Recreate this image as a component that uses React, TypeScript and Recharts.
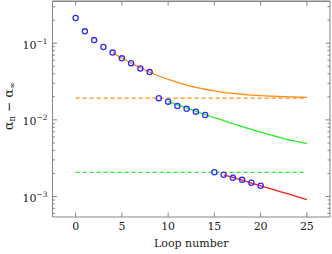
import { ComposedChart, Line, Scatter, XAxis, YAxis } from "recharts";

// measured points (loop number, alpha_n - alpha_inf)
const loops = [0, 1, 2, 3, 4, 5, 6, 7, 8, 9, 10, 11, 12, 13, 14, 15, 16, 17, 18, 19, 20];
const measured = [
  0.214, 0.143, 0.11, 0.0895, 0.0755, 0.0635, 0.055, 0.047, 0.042, 0.0192, 0.0173, 0.0152, 0.014, 0.0128,
  0.0116, 0.00207, 0.00192, 0.00175, 0.00165, 0.00151, 0.00138,
];

// fitted curves
const orangeLoops = [4, 5, 6, 7, 8, 9, 10, 11, 12, 13, 14, 15, 16, 17, 18, 19, 20, 21, 22, 23, 24, 25];
const orangeFit = [
  0.0755, 0.0641, 0.055, 0.0478, 0.042, 0.0374, 0.0337, 0.0308, 0.0284, 0.0266, 0.0251, 0.0239, 0.0229,
  0.0222, 0.0216, 0.0211, 0.0207, 0.0204, 0.0202, 0.02, 0.0198, 0.0197,
];
const greenLoops = [10, 11, 12, 13, 14, 15, 16, 17, 18, 19, 20, 21, 22, 23, 24, 25];
const greenFit = [
  0.0173, 0.0157, 0.0143, 0.013, 0.0117, 0.0107, 0.0098, 0.0089, 0.0082, 0.0075, 0.0069, 0.0064, 0.0059,
  0.0055, 0.0052, 0.0049,
];
const redLoops = [16, 17, 18, 19, 20, 21, 22, 23, 24, 25];
const redFit = [0.00192, 0.00177, 0.00163, 0.0015, 0.00138, 0.00127, 0.00117, 0.00108, 0.00099, 0.00091];

// asymptotes (dashed)
const asymLoops = [0, 25];
const orangeAsym = 0.0192;
const greenAsym = 0.00207;

const xTicks = [0, 5, 10, 15, 20, 25];
const yTicks = [
  0.0006, 0.0007, 0.0008, 0.0009, 0.001, 0.002, 0.003, 0.004, 0.005, 0.006, 0.007, 0.008, 0.009, 0.01, 0.02,
  0.03, 0.04, 0.05, 0.06, 0.07, 0.08, 0.09, 0.1, 0.2, 0.3,
];

const AXIS = "#858585";
const BLUE = "#2e2eff";
const ORANGE = "#ff8a14";
const GREEN = "#22ee22";
const RED = "#ff1a1a";
const FONT = "DejaVu Serif";

const xDomain: [number, number] = [-2.5, 27.5];
const yDomain: [number, number] = [0.00054, 0.356];

const toPts = (xs: number[], ys: number[]) => xs.map((n, i) => ({ n, v: ys[i] }));
const flat = (v: number) => asymLoops.map((n) => ({ n, v }));
// top edge of the frame, a series along the domain max bound to the top axis
const topEdge = xDomain.map((n) => ({ n, v: yDomain[1] }));

const isMajor = (v: number) => Math.abs(Math.log10(v) - Math.round(Math.log10(v))) < 1e-6;

function LeftTick({ x, y, payload }: any) {
  const v = payload.value;
  const major = isMajor(v);
  return (
    <g>
      <line x1={x} x2={x + (major ? 4.5 : 2.5)} y1={y} y2={y} stroke={AXIS} />
      {major && (
        <text x={x - 5} y={y + 5.5} textAnchor="end" fontFamily={FONT} fontSize={11} fill="#222">
          10
          <tspan dy={-5} fontSize={7.5}>
            {"\u2212" + -Math.round(Math.log10(v))}
          </tspan>
        </text>
      )}
    </g>
  );
}

function RightTick({ x, y, payload }: any) {
  const major = isMajor(payload.value);
  return <line x1={x} x2={x - (major ? 4.5 : 2.5)} y1={y} y2={y} stroke={AXIS} />;
}

function BottomTick({ x, y, payload }: any) {
  return (
    <g>
      <line x1={x} x2={x} y1={y} y2={y - 4.5} stroke={AXIS} />
      <text x={x} y={y + 12.5} textAnchor="middle" fontFamily={FONT} fontSize={11} fill="#222">
        {payload.value}
      </text>
    </g>
  );
}

function TopTick({ x, y }: any) {
  return <line x1={x} x2={x} y1={y} y2={y + 4.5} stroke={AXIS} />;
}

function YLabel({ viewBox }: any) {
  const cx = viewBox.x + 12.5;
  const cy = viewBox.y + viewBox.height / 2 - 3;
  return (
    <text transform={`translate(${cx},${cy}) rotate(-90)`} textAnchor="middle" fontFamily={FONT} fontSize={12.5} fill="#222">
      α<tspan dy={2.5} fontSize={8.5}>n</tspan>
      <tspan dy={-2.5}> − α</tspan>
      <tspan dy={2.5} fontSize={8.5}>∞</tspan>
    </text>
  );
}

function XLabel({ viewBox }: any) {
  return (
    <text x={viewBox.x + viewBox.width / 2} y={viewBox.y + 29.5} textAnchor="middle" fontFamily={FONT} fontSize={11} fill="#222">
      Loop number
    </text>
  );
}

export default function App() {
  return (
    <div style={{ position: "absolute", left: 0, top: 0, background: "#fff" }}>
      <ComposedChart width={332} height={254} margin={{ top: 0, right: 1, left: 0, bottom: 0 }}>
        <XAxis
          xAxisId="t"
          orientation="top"
          dataKey="n"
          type="number"
          domain={xDomain}
          allowDataOverflow
          ticks={xTicks}
          interval={0}
          height={1}
          tickSize={0}
          tickMargin={0}
          tickLine={false}
          axisLine={{ stroke: AXIS }}
          tick={<TopTick />}
        />
        <XAxis
          xAxisId="b"
          dataKey="n"
          type="number"
          domain={xDomain}
          allowDataOverflow
          ticks={xTicks}
          interval={0}
          height={37}
          tickSize={0}
          tickMargin={0}
          tickLine={false}
          axisLine={{ stroke: AXIS }}
          tick={<BottomTick />}
          label={{ content: <XLabel /> }}
        />
        <YAxis
          yAxisId="l"
          type="number"
          scale="log"
          domain={yDomain}
          allowDataOverflow
          ticks={yTicks}
          interval={0}
          width={52.5}
          tickSize={0}
          tickMargin={0}
          tickLine={false}
          axisLine={{ stroke: AXIS }}
          tick={<LeftTick />}
          label={{ content: <YLabel /> }}
        />
        <YAxis
          yAxisId="r"
          orientation="right"
          type="number"
          scale="log"
          domain={yDomain}
          allowDataOverflow
          ticks={yTicks}
          interval={0}
          width={1}
          tickSize={0}
          tickMargin={0}
          tickLine={false}
          axisLine={{ stroke: AXIS }}
          tick={<RightTick />}
        />

        <Line xAxisId="t" yAxisId="r" data={topEdge} dataKey="v" stroke={AXIS} strokeWidth={2} dot={false} isAnimationActive={false} />

        <Line xAxisId="b" yAxisId="l" data={flat(orangeAsym)} dataKey="v" stroke={ORANGE} strokeWidth={1.3} strokeDasharray="4 3" dot={false} isAnimationActive={false} />
        <Line xAxisId="b" yAxisId="l" data={flat(greenAsym)} dataKey="v" stroke={GREEN} strokeWidth={1.3} strokeDasharray="4 3" dot={false} isAnimationActive={false} />
        <Line xAxisId="b" yAxisId="l" data={toPts(orangeLoops, orangeFit)} dataKey="v" type="monotone" stroke={ORANGE} strokeWidth={1.3} dot={false} isAnimationActive={false} />
        <Line xAxisId="b" yAxisId="l" data={toPts(greenLoops, greenFit)} dataKey="v" type="monotone" stroke={GREEN} strokeWidth={1.3} dot={false} isAnimationActive={false} />
        <Line xAxisId="b" yAxisId="l" data={toPts(redLoops, redFit)} dataKey="v" type="monotone" stroke={RED} strokeWidth={1.3} dot={false} isAnimationActive={false} />
        <Scatter
          xAxisId="b"
          yAxisId="l"
          data={toPts(loops, measured)}
          dataKey="v"
          isAnimationActive={false}
          shape={(p: any) => <circle cx={p.cx} cy={p.cy} r={2.6} fill="none" stroke={BLUE} strokeWidth={1.3} />}
        />
      </ComposedChart>
    </div>
  );
}
